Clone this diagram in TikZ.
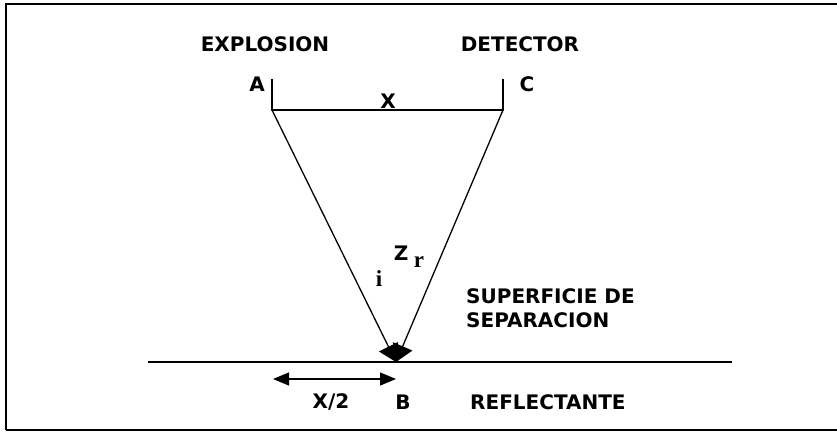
\documentclass[tikz,border=0pt]{standalone}
\usepackage{fontspec}
\setmainfont{DejaVu Sans}
\newfontfamily\serifrm{Liberation Serif}
\usetikzlibrary{arrows.meta}
\tikzset{
  lbl/.style={font=\fontsize{20}{24}\selectfont\bfseries, inner sep=0pt},
  grk/.style={font=\serifrm\fontsize{23}{26}\selectfont\bfseries, inner sep=0pt},
  ray/.style={line width=1.3pt, -{Triangle[length=17pt,width=21pt]}},
  frm/.style={line width=1.2pt},
  ln/.style={line width=1.3pt}
}
\begin{document}
\begin{tikzpicture}[x=1pt,y=-1pt]
\useasboundingbox (0,0) rectangle (837,433);
% frame
\draw[frm] (6,430) -- (6,4) -- (837,4);
\draw[frm] (6,430) -- (837,430);
% labels
\node[lbl] (expl) at (265,44) {EXPLOSION};
\node[lbl] (det) at (520,44) {DETECTOR};
\node[lbl] (A) at (257,84) {A};
\node[lbl] (C) at (527,84) {C};
\node[lbl] (X) at (388,101) {X};
\node[lbl] (Z) at (401,253) {Z};
\node[grk] (i) at (379,279) {i};
\node[grk] (r) at (419,262) {r};
\node[lbl, anchor=west, align=left] (sup) at (466,308) {SUPERFICIE DE\\SEPARACION};
\node[lbl] (x2) at (331,402) {X/2};
\node[lbl] (B) at (403,402) {B};
\node[lbl, anchor=west] (refl) at (470,402) {REFLECTANTE};
% geometry
\coordinate (pA) at (272,110);
\coordinate (pC) at (503,110);
\coordinate (tA) at (272,79);
\coordinate (tC) at (503,79);
\coordinate (pB) at (396,362);
\coordinate (sL) at (148,362);
\coordinate (sR) at (732,362);
\coordinate (dL) at (273,379);
\coordinate (dR) at (396,379);
\draw[ln] (tA) -- (pA) -- (pC) -- (tC);
\draw[ray] (pA) -- (pB);
\draw[ray] (pC) -- (pB);
\draw[ln] (sL) -- (sR);
\draw[line width=1.4pt, {Triangle[length=16pt,width=13pt]}-{Triangle[length=16pt,width=13pt]}] (dL) -- (dR);
\end{tikzpicture}
\end{document}
